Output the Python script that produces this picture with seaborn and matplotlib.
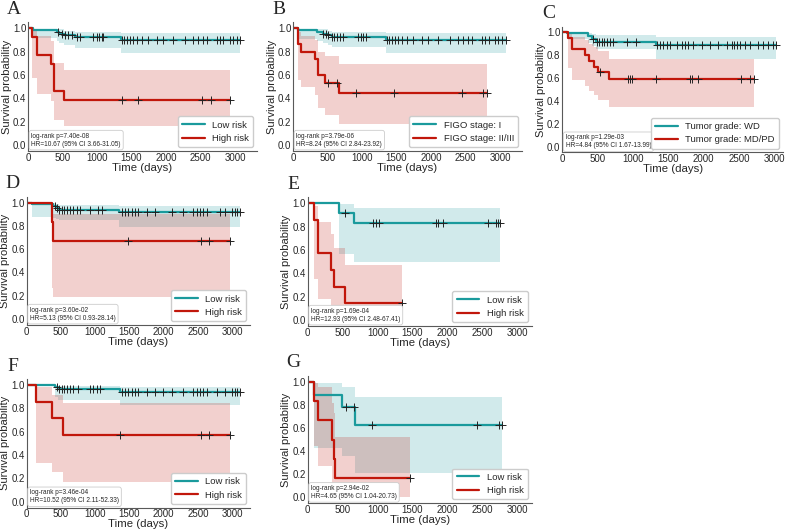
import numpy as np
import matplotlib
matplotlib.use("Agg")
import matplotlib.pyplot as plt
import seaborn as sns

sns.set_style("white")
plt.rcParams['font.family'] = ['Liberation Sans', 'DejaVu Sans']

TEAL = "#1a9a9c"
RED = "#c1170b"

# ---- panel A ----
A_lo_t = [0, 70, 415, 454, 527, 681, 1343]
A_lo_s = [1, 0.985, 0.97, 0.955, 0.94, 0.925, 0.90]
A_lo_l = [1, 0.92, 0.89, 0.87, 0.855, 0.835, 0.79]
A_lo_u = [1, 0.998, 0.995, 0.99, 0.98, 0.97, 0.957]
A_lo_c = [440, 488, 536, 585, 633, 705, 754, 947, 995, 1029, 1068, 1092, 1357, 1391,
          1430, 1478, 1527, 1575, 1647, 1744, 1865, 1961, 2106, 2275, 2396, 2469, 2541,
          2589, 2734, 2783, 2831, 2928, 2976, 3024, 3072]
A_hi_t = [0, 62, 135, 333, 382, 527]
A_hi_s = [1, 0.923, 0.769, 0.692, 0.462, 0.385]
A_hi_l = [1, 0.57, 0.44, 0.38, 0.21, 0.16]
A_hi_u = [1, 0.99, 0.93, 0.89, 0.70, 0.64]
A_hi_c = [1357, 1599, 2517, 2647, 2930]

# ---- panel B ----
B_lo_t = [0, 77, 343, 440, 512, 560, 1343]
B_lo_s = [1, 0.985, 0.97, 0.955, 0.94, 0.925, 0.90]
B_lo_l = [1, 0.91, 0.89, 0.87, 0.855, 0.84, 0.79]
B_lo_u = [1, 0.998, 0.995, 0.99, 0.98, 0.97, 0.957]
B_lo_c = [440, 478, 512, 560, 599, 633, 681, 729, 947, 981, 1019, 1058, 1357, 1391,
          1430, 1478, 1527, 1575, 1647, 1744, 1865, 1961, 2097, 2275, 2386, 2469, 2541,
          2589, 2734, 2783, 2841, 2928, 2976, 3034, 3082]
B_hi_t = [0, 77, 116, 319, 367, 464, 667]
B_hi_s = [1, 0.867, 0.80, 0.733, 0.60, 0.533, 0.444]
B_hi_l = [1, 0.56, 0.50, 0.43, 0.32, 0.26, 0.18]
B_hi_u = [1, 0.97, 0.93, 0.90, 0.80, 0.76, 0.69]
B_hi_c = [512, 633, 918, 1469, 2444, 2758, 2807]

# ---- panel C ----
C_lo_t = [0, 60, 368, 415, 470, 1325]
C_lo_s = [1, 0.99, 0.97, 0.945, 0.915, 0.888]
C_lo_l = [1, 0.94, 0.91, 0.88, 0.85, 0.77]
C_lo_u = [1, 1.0, 0.995, 0.985, 0.975, 0.956]
C_lo_c = [439, 486, 519, 557, 590, 627, 675, 722, 910, 1042, 1335, 1382, 1429, 1476,
          1524, 1618, 1689, 1736, 1783, 1854, 1972, 2090, 2208, 2325, 2396, 2434, 2467,
          2514, 2585, 2656, 2774, 2844, 2915, 2976, 3024]
C_hi_t = [0, 85, 135, 320, 380, 450, 500, 660]
C_hi_s = [1, 0.95, 0.85, 0.80, 0.75, 0.70, 0.65, 0.596]
C_hi_l = [1, 0.69, 0.58, 0.53, 0.49, 0.45, 0.41, 0.345]
C_hi_u = [1, 0.99, 0.96, 0.93, 0.90, 0.87, 0.84, 0.77]
C_hi_c = [530, 925, 955, 985, 1325, 1807, 1830, 1915, 2528, 2656, 2712]

# ---- panel D ----
D_lo_t = [0, 73, 389, 430, 470, 1340]
D_lo_s = [1, 0.985, 0.97, 0.955, 0.94, 0.917]
D_lo_l = [1, 0.875, 0.87, 0.86, 0.85, 0.79]
D_lo_u = [1, 1.0, 0.995, 0.99, 0.98, 0.97]
D_lo_c = [413, 438, 476, 510, 544, 583, 632, 681, 729, 778, 924, 1045, 1094, 1386, 1434,
          1483, 1531, 1580, 1629, 1750, 1872, 2115, 2285, 2431, 2479, 2528, 2577, 2625,
          2820, 2893, 2990, 3038, 3072, 3111]
D_hi_t = [0, 374, 389]
D_hi_s = [1, 0.833, 0.667]
D_hi_l = [1, 0.27, 0.19]
D_hi_u = [1, 0.98, 0.90]
D_hi_c = [1483, 2543, 2664, 2966]

# ---- panel E ----
E_lo_t = [0, 448, 668]
E_lo_s = [1, 0.917, 0.833]
E_lo_l = [1, 0.563, 0.494]
E_lo_u = [1, 0.99, 0.957]
E_lo_c = [534, 939, 977, 1020, 1831, 1869, 1941, 2575, 2690, 2728, 2752]
E_hi_t = [0, 91, 153, 329, 377, 534]
E_hi_s = [1, 0.857, 0.571, 0.429, 0.286, 0.143]
E_hi_l = [1, 0.35, 0.18, 0.09, 0.04, 0.01]
E_hi_u = [1, 0.98, 0.843, 0.734, 0.614, 0.471]
E_hi_c = [1345]

# ---- panel F ----
F_lo_t = [0, 413, 450, 1361]
F_lo_s = [1, 0.98, 0.962, 0.942]
F_lo_l = [1, 0.90, 0.87, 0.83]
F_lo_u = [1, 1.0, 0.995, 0.98]
F_lo_c = [438, 476, 510, 544, 583, 632, 681, 754, 924, 972, 1021, 1070, 1386, 1434,
          1483, 1531, 1580, 1629, 1750, 1872, 1993, 2115, 2285, 2431, 2479, 2528, 2577,
          2625, 2771, 2893, 2990, 3038, 3072, 3111]
F_hi_t = [0, 136, 374, 535]
F_hi_s = [1, 0.857, 0.714, 0.571]
F_hi_l = [1, 0.334, 0.257, 0.171]
F_hi_u = [1, 0.98, 0.914, 0.843]
F_hi_c = [1361, 2543, 2664, 2966]

# ---- panel G ----
G_lo_t = [0, 95, 496, 677]
G_lo_s = [1, 0.889, 0.778, 0.622]
G_lo_l = [1, 0.43, 0.36, 0.21]
G_lo_u = [1, 0.986, 0.951, 0.865]
G_lo_c = [544, 663, 925, 2428, 2742, 2785]
G_hi_t = [0, 95, 143, 343, 380, 395]
G_hi_s = [1, 0.833, 0.667, 0.5, 0.333, 0.167]
G_hi_l = [1, 0.44, 0.27, 0.12, 0.05, 0.005]
G_hi_u = [1, 0.99, 0.95, 0.82, 0.73, 0.52]
G_hi_c = [1464]

names = ["A", "B", "C", "D", "E", "F", "G"]
legends = {
    "A": ("Low risk", "High risk"),
    "B": ("FIGO stage: I", "FIGO stage: II/III"),
    "C": ("Tumor grade: WD", "Tumor grade: MD/PD"),
    "D": ("Low risk", "High risk"),
    "E": ("Low risk", "High risk"),
    "F": ("Low risk", "High risk"),
    "G": ("Low risk", "High risk"),
}
stats = {
    "A": "log-rank p=7.40e-08\nHR=10.67 (95% CI 3.66-31.05)",
    "B": "log-rank p=3.79e-06\nHR=8.24 (95% CI 2.84-23.92)",
    "C": "log-rank p=1.29e-03\nHR=4.84 (95% CI 1.67-13.99)",
    "D": "log-rank p=3.60e-02\nHR=5.13 (95% CI 0.93-28.14)",
    "E": "log-rank p=1.69e-04\nHR=12.93 (95% CI 2.48-67.41)",
    "F": "log-rank p=3.46e-04\nHR=10.52 (95% CI 2.11-52.33)",
    "G": "log-rank p=2.94e-02\nHR=4.65 (95% CI 1.04-20.73)",
}

# pixel geometry: x of day 0, x of day 3000, right end, y of 1.0, y of 0.0
geom = {
    "A": (28, 235, 257, 28.3, 145),
    "B": (293, 500, 522, 28.3, 145),
    "C": (562.3, 774.3, 783, 32.3, 146.7),
    "D": (26.7, 232.3, 250, 202.7, 319),
    "E": (307.7, 517.3, 531.7, 203.3, 320),
    "F": (26.7, 232.3, 250, 385, 501.7),
    "G": (307.7, 517.3, 531.7, 381.7, 497.3),
}

W, H = 787, 530
fig = plt.figure(figsize=(W / 100, H / 100), dpi=100)


def surv_at(t, s, x):
    idx = np.searchsorted(t, x, side="right") - 1
    return np.asarray(s)[idx]


def draw_curve(ax, t, s, lo, hi, cens, color, label):
    end = max(cens) if len(cens) else t[-1]
    tt = np.append(t, end)
    ss = np.append(s, s[-1])
    ll = np.append(lo, lo[-1])
    uu = np.append(hi, hi[-1])
    ax.fill_between(tt, ll, uu, step="post", color=color, alpha=0.2, lw=0)
    sns.lineplot(x=tt, y=ss, drawstyle="steps-post", color=color, lw=1.6,
                 ax=ax, label=label, sort=False)
    ax.plot(cens, surv_at(t, s, cens), ls="none", marker="+", color="#222222",
            ms=5.5, mew=0.7)


g = globals()
for n in names:
    x0, x3, xr, y1, y0 = geom[n]
    scale = (x3 - x0) / 3000.0
    unit = y0 - y1
    top = y1 - 0.05 * unit
    bot = y0 + 0.05 * unit
    ax = fig.add_axes([x0 / W, 1 - bot / H, (xr - x0) / W, (bot - top) / H])
    lo_lab, hi_lab = legends[n]
    draw_curve(ax, g[n + "_lo_t"], g[n + "_lo_s"], g[n + "_lo_l"], g[n + "_lo_u"],
               g[n + "_lo_c"], TEAL, lo_lab)
    draw_curve(ax, g[n + "_hi_t"], g[n + "_hi_s"], g[n + "_hi_l"], g[n + "_hi_u"],
               g[n + "_hi_c"], RED, hi_lab)
    ax.set_xlim(0, (xr - x0) / scale)
    ax.set_ylim(-0.05, 1.05)
    ax.set_xticks([0, 500, 1000, 1500, 2000, 2500, 3000])
    ax.set_yticks([0, 0.2, 0.4, 0.6, 0.8, 1.0])
    ax.tick_params(labelsize=7, pad=1.3, length=0)
    ax.set_xlabel("Time (days)", fontsize=8.2, labelpad=0)
    ax.set_ylabel("Survival probability", fontsize=8, labelpad=0.8)
    sns.despine(ax=ax)
    for sp in ["left", "bottom"]:
        ax.spines[sp].set_color("0.35")
        ax.spines[sp].set_linewidth(0.8)
    ax.legend(loc="lower right", fontsize=6.8, handlelength=2.4, borderpad=0.45,
              labelspacing=0.45, framealpha=1, edgecolor="0.8", borderaxespad=0.4)
    ax.text(0.015, 0.025, stats[n], transform=ax.transAxes, fontsize=4.7,
            va="bottom", ha="left", linespacing=1.2,
            bbox=dict(boxstyle="round,pad=0.35", fc="white", ec="0.8", lw=0.6))
    fig.text((x0 - 14) / W, 1 - (top - 13) / H, n, fontsize=14,
             family="Liberation Serif", ha="center", va="center")

fig.savefig("out.png", dpi=100)
